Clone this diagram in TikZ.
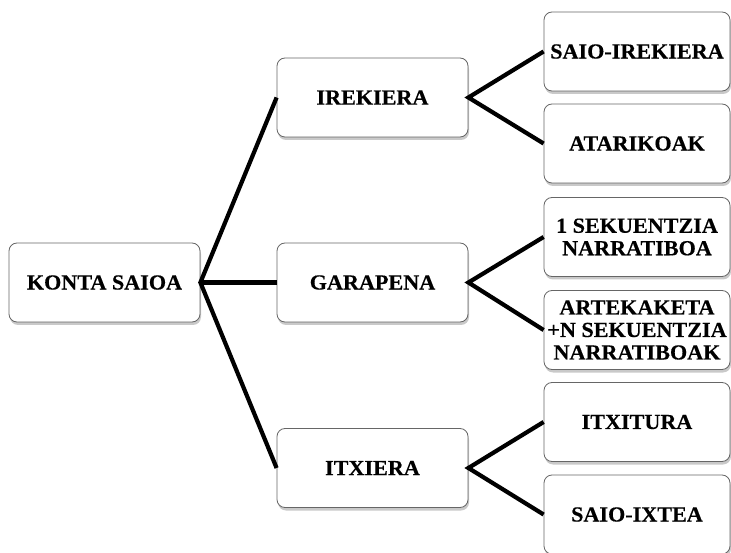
\documentclass[tikz,border=0pt]{standalone}
\usepackage{fontspec}
\setmainfont{Liberation Serif}[FakeStretch=1.03, BoldFeatures={FakeBold=0.4}]
\usetikzlibrary{shadows}
\tikzset{
  box/.style={draw=black!60, line width=0.8pt, fill=white, rounded corners=8pt,
    minimum height=79pt, inner sep=0pt, align=center,
    font=\fontsize{21.5}{22.5}\selectfont\bfseries,
    drop shadow={shadow xshift=1pt, shadow yshift=-3pt, opacity=0.35, fill=black!60}},
  midbox/.style={box, minimum width=191pt},
  leafbox/.style={box, minimum width=186pt},
  link/.style={line width=4.2pt, black}
}
\begin{document}
\begin{tikzpicture}[x=1pt,y=-1pt]
\useasboundingbox (0,0) rectangle (731,553);
\clip (0,0) rectangle (731,553);
\fill[white] (0,0) rectangle (731,553);
\node[midbox] (root) at (104.5,282.5) {KONTA SAIOA};
\node[midbox] (ire) at (372.5,97.5) {IREKIERA};
\node[midbox] (gar) at (372.5,282.5) {GARAPENA};
\node[midbox] (itx) at (372.5,468) {ITXIERA};
\node[leafbox] (l1) at (637,51.5) {SAIO-IREKIERA};
\node[leafbox] (l2) at (637,143.5) {ATARIKOAK};
\node[leafbox] (l3) at (637,237) {1 SEKUENTZIA\\NARRATIBOA};
\node[leafbox] (l4) at (637,330) {ARTEKAKETA\\+N SEKUENTZIA\\NARRATIBOAK};
\node[leafbox] (l5) at (637,422) {ITXITURA};
\node[leafbox] (l6) at (637,514.5) {SAIO-IXTEA};
\draw[link] (ire.west) -- (root.east) -- (itx.west);
\draw[link] (root.east) -- (gar.west);
\draw[link] (l1.west) -- (ire.east) -- (l2.west);
\draw[link] (l3.west) -- (gar.east) -- (l4.west);
\draw[link] (l5.west) -- (itx.east) -- (l6.west);
\end{tikzpicture}
\end{document}
